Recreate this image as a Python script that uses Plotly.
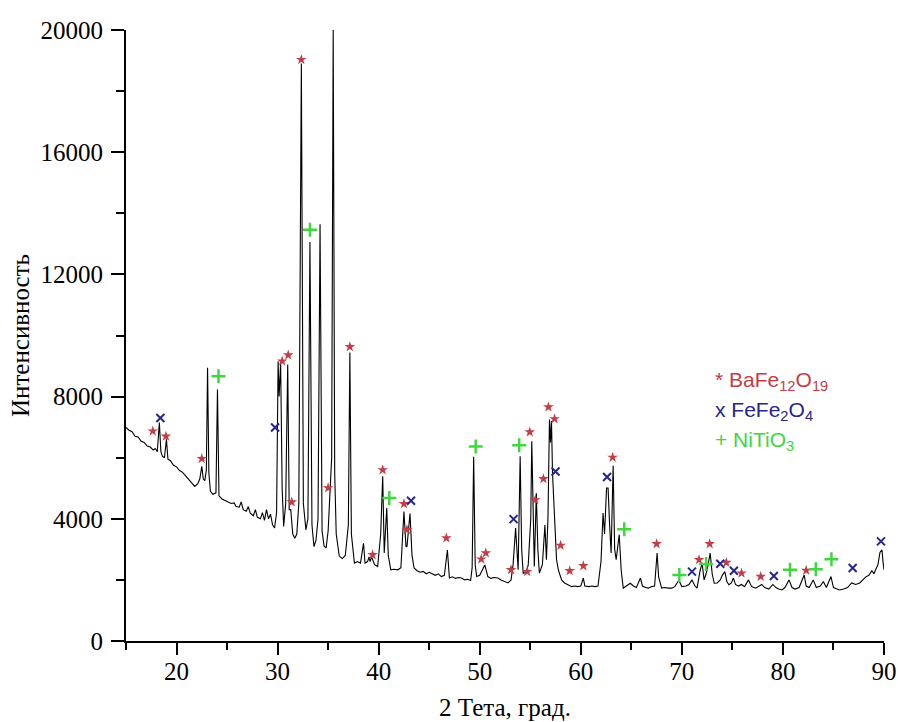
import plotly.graph_objects as go

# diffractogram (2 theta, intensity)
two_theta = [
    15.0, 15.3, 15.6, 15.9, 16.2, 16.5, 16.8, 17.1, 17.4, 17.7, 17.9, 18.1, 18.3, 18.45, 18.6, 18.8,
    19.0, 19.15, 19.4, 19.7, 20.0, 20.3, 20.6, 20.9, 21.2, 21.5, 21.8, 22.1, 22.3, 22.5, 22.65, 22.8,
    22.95, 23.07, 23.2, 23.35, 23.6, 23.9, 24.05, 24.2, 24.5, 24.8, 25.1, 25.4, 25.7, 25.9, 26.2, 26.4,
    26.6, 26.9, 27.1, 27.3, 27.6, 27.8, 28.0, 28.3, 28.5, 28.7, 28.9, 29.1, 29.3, 29.5, 29.7, 29.9,
    30.05, 30.15, 30.3, 30.45, 30.6, 30.8, 31.0, 31.15, 31.3, 31.5, 31.7, 31.9, 32.1, 32.35, 32.55, 32.8,
    33.0, 33.2, 33.4, 33.6, 33.8, 34.0, 34.2, 34.4, 34.6, 34.8, 35.0, 35.2, 35.35, 35.5, 35.65, 35.8,
    36.1, 36.4, 36.7, 37.0, 37.15, 37.3, 37.6, 37.9, 38.2, 38.5, 38.65, 38.9, 39.05, 39.15, 39.3, 39.6,
    39.9, 40.2, 40.4, 40.55, 40.8, 40.95, 41.2, 41.5, 41.9, 42.2, 42.5, 42.7, 42.8, 43.1, 43.3, 43.5,
    43.8, 44.1, 44.4, 44.7, 45.0, 45.3, 45.6, 45.9, 46.2, 46.5, 46.8, 47.0, 47.3, 47.6, 47.9, 48.2,
    48.5, 48.8, 49.1, 49.25, 49.4, 49.55, 49.7, 50.0, 50.2, 50.5, 50.8, 51.1, 51.4, 51.8, 52.1, 52.4,
    52.8, 53.1, 53.3, 53.55, 53.7, 53.8, 54.0, 54.15, 54.3, 54.6, 54.8, 55.05, 55.15, 55.3, 55.4, 55.6,
    55.75, 55.9, 56.2, 56.45, 56.6, 56.75, 56.9, 57.0, 57.1, 57.2, 57.3, 57.45, 57.6, 57.8, 58.1, 58.4,
    58.7, 59.1, 59.4, 59.7, 60.0, 60.25, 60.4, 60.8, 61.1, 61.4, 61.7, 62.0, 62.2, 62.35, 62.55, 62.7,
    62.85, 63.0, 63.2, 63.35, 63.5, 63.8, 64.0, 64.2, 64.5, 64.9, 65.2, 65.5, 65.9, 66.1, 66.4, 66.7,
    67.0, 67.3, 67.55, 67.7, 68.0, 68.3, 68.7, 69.0, 69.3, 69.7, 70.0, 70.4, 70.7, 71.0, 71.3, 71.5,
    71.8, 72.0, 72.2, 72.4, 72.6, 72.8, 73.0, 73.2, 73.5, 73.8, 74.0, 74.25, 74.45, 74.65, 74.9, 75.1,
    75.3, 75.6, 75.9, 76.2, 76.6, 76.9, 77.3, 77.6, 77.9, 78.2, 78.6, 79.0, 79.3, 79.6, 79.9, 80.2,
    80.6, 80.9, 81.2, 81.6, 81.9, 82.1, 82.3, 82.6, 83.0, 83.3, 83.7, 84.0, 84.3, 84.75, 85.0, 85.3,
    85.6, 86.0, 86.4, 86.8, 87.2, 87.6, 87.9, 88.2, 88.5, 88.8, 89.0, 89.2, 89.4, 89.6, 89.8, 89.9,
    90.0,
]
intensity = [
    6990, 6900, 6850, 6700, 6680, 6540, 6500, 6380, 6350, 6250, 6300, 6200, 7150, 6200, 6050, 6000,
    6600, 5950, 5900, 5750, 5700, 5580, 5520, 5400, 5300, 5150, 5060, 5150, 5300, 5720, 5300, 5250,
    5600, 8940, 5500, 4900, 4800, 4850, 8230, 4750, 4650, 4600, 4550, 4500, 4520, 4400, 4380, 4550,
    4300, 4250, 4400, 4180, 4100, 4300, 4050, 4000, 4200, 3950, 4300, 4000, 4150, 3800, 3700, 4200,
    9160, 8000, 9100, 5000, 3750, 4500, 9050, 4300, 4300, 3500, 3360, 3500, 4500, 18900, 4500, 3640,
    4000, 13060, 3800, 3090, 3300, 4000, 13640, 3600, 3100, 3050, 3600, 4840, 6000, 20020, 5500, 3500,
    2780, 2700, 2800, 3800, 9440, 3500, 2550, 2600, 2550, 3200, 2550, 2600, 2750, 2600, 2750, 2500,
    2440, 3500, 5390, 2880, 4350, 2800, 2330, 2350, 2330, 2400, 4240, 3100, 3090, 4170, 2800, 2390,
    2300, 2250, 2280, 2200, 2250, 2200, 2150, 2200, 2110, 2150, 2980, 2060, 2100, 2050, 2080, 2060,
    2000, 2020, 1980, 2400, 6030, 2500, 2110, 2150, 2300, 2490, 2110, 2050, 2080, 2060, 2000, 1950,
    1900, 2000, 2500, 3700, 2600, 2330, 6050, 3000, 2220, 2250, 2500, 4000, 6540, 3500, 2440, 4840,
    3000, 2220, 2500, 3800, 2660, 4000, 7250, 6500, 7200, 5500, 4840, 3500, 2660, 2300, 2000, 1900,
    1850, 1780, 1800, 1780, 1800, 2060, 1800, 1780, 1800, 1780, 1800, 2600, 4190, 3500, 5010, 5010,
    3800, 2880, 5740, 3000, 2660, 3480, 2300, 1730, 1800, 1890, 1800, 1750, 2060, 1800, 1750, 1730,
    1780, 1800, 2880, 2100, 1730, 1750, 1730, 1730, 1780, 1990, 1780, 1800, 1850, 2000, 1800, 1730,
    2300, 2550, 2000, 2200, 2500, 2880, 2200, 1890, 1900, 2000, 2150, 2270, 1950, 1840, 1900, 2060,
    1850, 1800, 1850, 1780, 2000, 1780, 1730, 1800, 1850, 1750, 1700, 1850, 1750, 1700, 1670, 1750,
    2000, 1750, 1700, 1750, 2000, 2160, 1800, 1750, 2000, 1750, 1800, 1950, 1750, 2110, 1750, 1700,
    1670, 1700, 1750, 1900, 1850, 1900, 2000, 2100, 2150, 2300, 2200, 2330, 2500, 2900, 2980, 2600,
    2330,
]

# phase marks
bafe_x = [17.65, 18.95, 22.5, 30.45, 31.05, 31.4, 32.35, 35.0, 37.15, 39.4, 40.4, 42.5, 42.8, 46.7,
          50.15, 50.6, 53.1, 54.7, 54.95, 55.5, 56.3, 56.8, 57.4, 58.0, 58.9, 60.25, 63.15, 67.5,
          71.7, 72.75, 74.4, 75.9, 77.8, 82.3]
bafe_y = [6870, 6700, 5970, 9160, 9360, 4550, 19030, 5010, 9630, 2820, 5600, 4490, 3640, 3370,
          2680, 2880, 2330, 2270, 6840, 4620, 5310, 7660, 7270, 3130, 2300, 2460, 6010, 3180,
          2660, 3180, 2570, 2220, 2110, 2310]

fefe_x = [18.4, 29.75, 35.45, 43.2, 53.35, 57.5, 62.6, 71.0, 73.8, 75.15, 79.1, 86.9, 89.7]
fefe_y = [7300, 6990, 20450, 4590, 3990, 5550, 5370, 2270, 2530, 2300, 2130, 2390, 3260]

niti_x = [24.15, 33.2, 41.05, 49.6, 53.9, 64.3, 69.75, 72.4, 80.7, 83.25, 84.8]
niti_y = [8670, 13460, 4680, 6370, 6410, 3660, 2160, 2520, 2330, 2350, 2680]

RED = "#c43c46"
BLUE = "#26268c"
GREEN = "#40d640"

fig = go.Figure()
fig.add_trace(go.Scatter(x=two_theta, y=intensity, mode="lines",
                         line=dict(color="black", width=1.1), cliponaxis=False))
fig.add_trace(go.Scatter(x=bafe_x, y=bafe_y, mode="markers", cliponaxis=False,
                         marker=dict(symbol="star", size=8, color=RED)))
fig.add_trace(go.Scatter(x=fefe_x, y=fefe_y, mode="markers", cliponaxis=False,
                         marker=dict(symbol="x-thin-open", size=8, color=BLUE,
                                     line=dict(color=BLUE, width=2))))
fig.add_trace(go.Scatter(x=niti_x, y=niti_y, mode="markers", cliponaxis=False,
                         marker=dict(symbol="cross-thin-open", size=10, color=GREEN,
                                     line=dict(color=GREEN, width=2.5))))

serif = "Liberation Serif"
sans = "Liberation Sans"
legend_items = [
    ("* BaFe<sub>12</sub>O<sub>19</sub>", RED, 0.426),
    ("x FeFe<sub>2</sub>O<sub>4</sub>", BLUE, 0.377),
    ("+ NiTiO<sub>3</sub>", GREEN, 0.327),
]
for txt, col, yy in legend_items:
    fig.add_annotation(text=txt, xref="paper", yref="paper", x=0.774, y=yy,
                       xanchor="left", yanchor="middle", showarrow=False,
                       font=dict(family=sans, size=21, color=col))

fig.update_layout(
    width=898, height=722,
    margin=dict(l=126, r=14, t=30, b=81),
    paper_bgcolor="white", plot_bgcolor="white",
    showlegend=False,
    font=dict(family=serif, size=25, color="black"),
)
fig.update_xaxes(
    range=[15, 90], tick0=20, dtick=10, showgrid=False, zeroline=False, automargin=False,
    showline=True, linecolor="black", linewidth=2,
    ticks="outside", ticklen=12, tickwidth=2, tickcolor="black", ticklabelstandoff=-5,
    minor=dict(dtick=5, tick0=15, ticks="outside", ticklen=7, tickwidth=2, tickcolor="black"),
    tickfont=dict(family=serif, size=25, color="black"),
    title=dict(text="2 Тета, град.", font=dict(family=serif, size=25), standoff=14),
)
fig.update_yaxes(
    range=[0, 20000], dtick=4000, tickformat="d", showgrid=False, zeroline=False, automargin=False,
    showline=True, linecolor="black", linewidth=2,
    ticks="outside", ticklen=13, tickwidth=2, tickcolor="black", ticklabelstandoff=3,
    minor=dict(dtick=2000, ticks="outside", ticklen=8, tickwidth=2, tickcolor="black"),
    tickfont=dict(family=serif, size=25, color="black"),
    title=dict(text="Интенсивность", font=dict(family=serif, size=25), standoff=4),
)

# drop the page's default body margin so the figure sits at the window corner
no_margin = ("document.body.style.margin='0';"
             "document.body.style.overflow='hidden';"
             "document.documentElement.style.overflow='hidden';")
fig.write_html("out.html", post_script=no_margin, config={"displayModeBar": False})
